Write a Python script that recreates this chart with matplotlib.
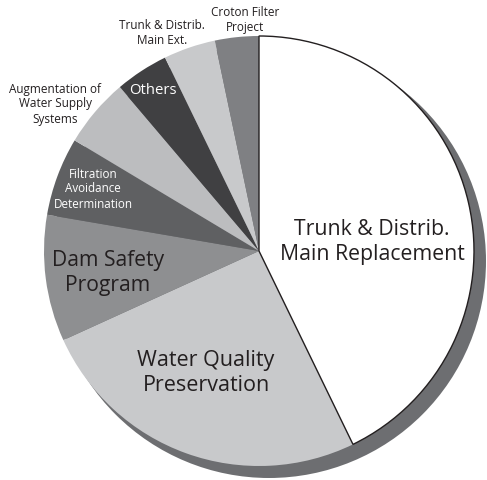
import matplotlib.pyplot as plt
from matplotlib.patches import Circle

plt.rcParams['font.family'] = 'Open Sans'

# capital program shares (percent), clockwise from 12 o'clock
programs = ['Trunk & Distrib.\nMain Replacement', 'Water Quality\nPreservation',
            'Dam Safety\nProgram', 'Filtration\nAvoidance\nDetermination',
            'Augmentation of\nWater Supply\nSystems', 'Others',
            'Trunk & Distrib.\nMain Ext.', 'Croton Filter\nProject']
shares = [42.8, 25.4, 9.5, 5.9, 5.2, 4.0, 3.9, 3.3]
colors = ['#ffffff', '#c8c9cb', '#8e8f91', '#5f6062',
          '#bcbdbf', '#404042', '#c8c9cb', '#7f8083']

W, H = 487, 481
cx, cy, r = 259, H - 252, 215
ink = '#231f20'

fig = plt.figure(figsize=(W / 100, H / 100), dpi=100)
ax = fig.add_axes([0, 0, 1, 1])

# drop shadow behind the pie
ax.add_patch(Circle((cx + 10, cy - 10), r + 2, color='#6d6e71', lw=0, zorder=0))

wedges, _ = ax.pie(shares, colors=colors, startangle=90, counterclock=False,
                   center=(cx, cy), radius=r, frame=True,
                   wedgeprops=dict(linewidth=0))
for w in wedges:
    w.set_zorder(1)
wedges[0].set_edgecolor(ink)
wedges[0].set_linewidth(1.0)
wedges[0].set_zorder(2)

# labels inside the slices
ax.text(372, H - 242, programs[0], fontsize=15.3, color=ink, ha='center', va='center',
        linespacing=1.3, zorder=3)
ax.text(206, H - 373, programs[1], fontsize=15.5, color=ink, ha='center', va='center',
        linespacing=1.3, zorder=3)
ax.text(108, H - 273, programs[2], fontsize=15.2, color=ink, ha='center', va='center',
        linespacing=1.25, zorder=3)
ax.text(93, H - 189, programs[3], fontsize=8.4, color='white', ha='center', va='center',
        linespacing=1.2, zorder=3)
ax.text(153, H - 90, programs[5], fontsize=10.7, color='white', ha='center', va='center',
        zorder=3)

# labels outside the pie
ax.text(55, H - 104, programs[4], fontsize=8.5, color=ink, ha='center', va='center',
        linespacing=1.2, zorder=3)
ax.text(162, H - 33, programs[6], fontsize=8.5, color=ink, ha='center', va='center',
        linespacing=1.2, zorder=3)
ax.text(245, H - 20, programs[7], fontsize=8.5, color=ink, ha='center', va='center',
        linespacing=1.2, zorder=3)

ax.set_xlim(0, W)
ax.set_ylim(0, H)
ax.set_aspect('equal')
ax.axis('off')

fig.savefig('out.png', dpi=100, facecolor='white')
